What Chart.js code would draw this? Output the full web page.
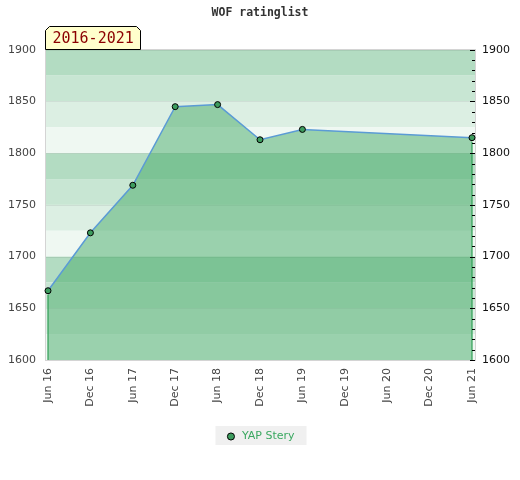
<!DOCTYPE html>
<html>
<head>
<meta charset="utf-8">
<script src="https://cdn.jsdelivr.net/npm/chart.js@4.4.1/dist/chart.umd.min.js"></script>
<style>
  html, body { margin: 0; padding: 0; background: #fff; }
  #wrap { width: 520px; height: 480px; }
</style>
</head>
<body>
<div id="wrap"><canvas id="chart"></canvas></div>
<script>
// data
const periods = ['Jun 16', 'Dec 16', 'Jun 17', 'Dec 17', 'Jun 18', 'Dec 18',
                 'Jun 19', 'Dec 19', 'Jun 20', 'Dec 20', 'Jun 21'];
const ratings = [1667, 1723, 1769, 1845, 1847, 1813, 1823, null, null, null, 1815];
const yTicks = [1600, 1650, 1700, 1750, 1800, 1850, 1900];
const seriesName = 'YAP Stery';
const chartTitle = 'WOF ratinglist';
const rangeLabel = '2016-2021';

const bandColors = ['#b3dcc2', '#c8e6d3', '#dcefe3', '#eff8f2'];
const pointFill = '#3d9c5e';

const decor = {
    id: 'decor',
    beforeDraw(chart) {
        const { ctx, chartArea: a, scales: { y } } = chart;
        const l = a.left - 2, r = a.right + 3;
        ctx.save();
        // striped background, 25 points per band
        let i = 0;
        for (let v = y.max; v > y.min; v -= 25, i++) {
            const top = y.getPixelForValue(v), bot = y.getPixelForValue(v - 25);
            ctx.fillStyle = bandColors[i % 4];
            ctx.fillRect(l, top, r - l, bot - top);
        }
        ctx.strokeStyle = 'rgba(0,0,0,0.07)';
        ctx.lineWidth = 1;
        y.ticks.forEach(t => {
            const py = Math.round(y.getPixelForValue(t.value)) + 0.5;
            ctx.beginPath(); ctx.moveTo(l, py); ctx.lineTo(r, py); ctx.stroke();
        });
        ctx.strokeStyle = '#d4d4d4';
        ctx.strokeRect(l - 0.5, Math.round(a.top) - 0.5, r - l + 1, Math.round(a.bottom - a.top) + 1);
        // legend background
        const hb = chart.legend.legendHitBoxes[0];
        if (hb) {
            ctx.fillStyle = '#f0f0f0';
            ctx.fillRect(hb.left - 10, hb.top - 5, hb.width + 22, hb.height + 8);
        }
        ctx.restore();
    },
    afterDatasetsDraw(chart) {
        const { ctx, chartArea: a, scales: { y2 } } = chart;
        const r = a.right + 3;
        ctx.save();
        // edges of the area
        const pts = chart.getDatasetMeta(0).data.filter((p, i) => ratings[i] !== null);
        ctx.strokeStyle = '#2f9e55';
        ctx.lineWidth = 1.2;
        [pts[0], pts[pts.length - 1]].forEach(p => {
            ctx.beginPath(); ctx.moveTo(p.x, p.y + 4); ctx.lineTo(p.x, a.bottom); ctx.stroke();
        });
        // right axis tick marks, inside the plot
        ctx.strokeStyle = '#000';
        ctx.lineWidth = 1;
        y2.ticks.forEach(t => {
            const py = Math.round(y2.getPixelForValue(t.value)) + 0.5;
            const len = t.value % 50 === 0 ? 5 : 3;
            ctx.beginPath(); ctx.moveTo(r - len, py); ctx.lineTo(r, py); ctx.stroke();
        });
        // range badge
        const bx = Math.round(a.left) - 2.5, bh = 23, by = Math.round(a.top) - bh - 0.5, bw = 95, c = 4;
        ctx.beginPath();
        ctx.moveTo(bx, by + bh);
        ctx.lineTo(bx, by + c);
        ctx.lineTo(bx + c, by);
        ctx.lineTo(bx + bw - c, by);
        ctx.lineTo(bx + bw, by + c);
        ctx.lineTo(bx + bw, by + bh);
        ctx.closePath();
        ctx.fillStyle = '#ffffcc';
        ctx.fill();
        ctx.stroke();
        ctx.fillStyle = '#8b0000';
        ctx.font = '15px "DejaVu Sans Mono"';
        ctx.textBaseline = 'middle';
        ctx.fillText(rangeLabel, bx + 7, by + bh / 2 + 1);
        ctx.restore();
    }
};

const ctx = document.getElementById('chart').getContext('2d');
new Chart(ctx, {
    type: 'line',
    data: {
        labels: periods,
        datasets: [{
            label: seriesName,
            data: ratings,
            yAxisID: 'y',
            borderColor: '#5b9bd5',
            borderWidth: 1.5,
            backgroundColor: 'rgba(70,170,104,0.5)',
            fill: 'start',
            tension: 0,
            spanGaps: true,
            pointRadius: 3,
            pointBackgroundColor: pointFill,
            pointBorderColor: '#000',
            pointBorderWidth: 1
        }]
    },
    options: {
        responsive: true,
        maintainAspectRatio: false,
        animation: false,
        layout: { padding: { bottom: 28 } },
        scales: {
            x: {
                type: 'category',
                offset: false,
                grid: { display: false, drawTicks: false },
                border: { display: false },
                ticks: {
                    minRotation: 90, maxRotation: 90, autoSkip: false,
                    color: '#444', padding: 8,
                    font: { family: 'DejaVu Sans', size: 11 }
                },
                afterFit(s) { s.height = 61; }
            },
            y: {
                position: 'left',
                min: yTicks[0], max: yTicks[yTicks.length - 1],
                grid: { display: false, drawTicks: false },
                border: { display: false },
                ticks: {
                    stepSize: 50, color: '#444', padding: 12,
                    font: { family: 'DejaVu Sans', size: 11 },
                    callback: v => String(v)
                },
                afterFit(s) { s.width = 48; }
            },
            y2: {
                position: 'right',
                min: yTicks[0], max: yTicks[yTicks.length - 1],
                grid: { display: false, drawTicks: false },
                border: { display: false },
                ticks: {
                    stepSize: 10, autoSkip: false, color: '#111', padding: 10,
                    font: { family: 'DejaVu Sans', size: 11 },
                    callback: v => (yTicks.includes(v) ? String(v) : '')
                },
                afterFit(s) { s.width = 48; }
            }
        },
        plugins: {
            title: {
                display: true,
                text: chartTitle,
                color: '#333',
                font: { family: 'DejaVu Sans Mono', size: 11.5, weight: 'bold' },
                padding: { top: 6, bottom: 30 }
            },
            legend: {
                position: 'bottom',
                labels: {
                    usePointStyle: true,
                    boxWidth: 11,
                    boxHeight: 5,
                    padding: 10,
                    color: '#3aa860',
                    font: { family: 'DejaVu Sans', size: 11 },
                    generateLabels: () => [{
                        text: seriesName,
                        fillStyle: pointFill,
                        strokeStyle: '#000',
                        lineWidth: 1,
                        pointStyle: 'circle',
                        fontColor: '#3aa860',
                        datasetIndex: 0,
                        hidden: false
                    }]
                }
            },
            tooltip: { enabled: false }
        }
    },
    plugins: [decor]
});
</script>
</body>
</html>
